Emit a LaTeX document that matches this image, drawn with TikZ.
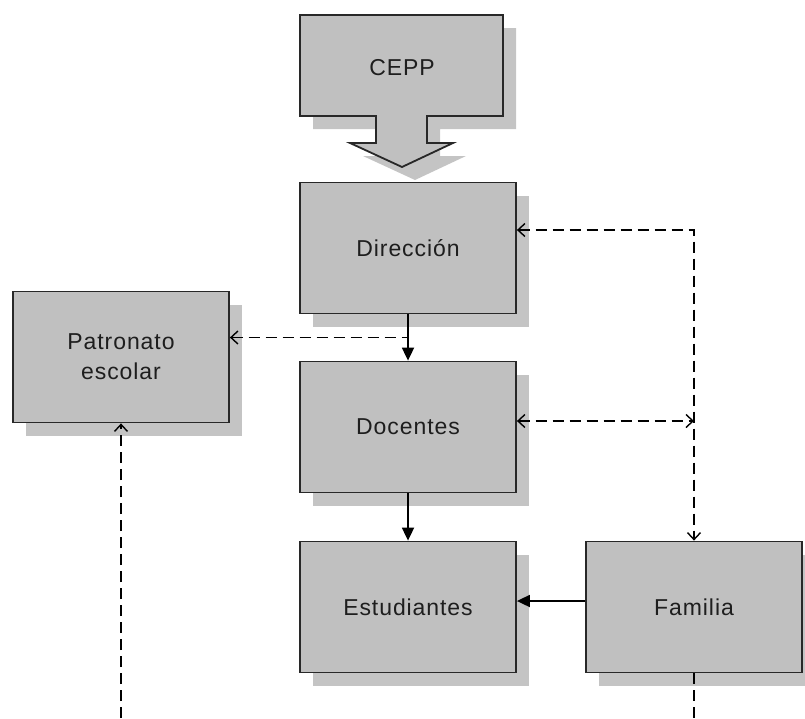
\documentclass[tikz,border=0pt]{standalone}
\usepackage{fontspec}
\setmainfont{Liberation Sans}[LetterSpace=4]
\usetikzlibrary{arrows.meta,shadows,calc}
\definecolor{boxgray}{RGB}{192,192,192}
\definecolor{shadegray}{RGB}{196,196,196}
\definecolor{edgegray}{RGB}{40,40,40}
\definecolor{textgray}{RGB}{30,30,30}
\tikzset{>=Triangle}

\begin{document}
\begin{tikzpicture}[x=1pt,y=-1pt,
  shade/.style={drop shadow={shadow xshift=13pt,shadow yshift=-13pt,fill=shadegray,opacity=1}},
  block/.style={shade,draw=edgegray,line width=1.8pt,fill=boxgray,
    minimum width=216pt,minimum height=131pt,align=center,
    text=textgray,font=\fontsize{23}{30}\selectfont},
  solidline/.style={line width=1.8pt,-{Triangle[length=13pt,width=12pt]}},
  dashline/.style={line width=1.8pt,dash pattern=on 11pt off 6pt},
  dashtip/.tip={Straight Barb[length=7pt,width=13pt,line width=1.4pt]}]
\useasboundingbox (0,0) rectangle (805,718);

% CEPP block arrow
\draw[shade,draw=edgegray,line width=1.8pt,fill=boxgray]
  (300,15) -- (503,15) -- (503,116) -- (427,116) -- (427,143) --
  (453,143) -- (402,167) -- (350,143) -- (376,143) -- (376,116) --
  (300,116) -- cycle;
\node[text=textgray,font=\fontsize{23}{30}\selectfont] (CEPP) at (402,68) {CEPP};

\node[block] (Dir) at (408,248) {Dirección};
\node[block] (Doc) at (408,427) {Docentes};
\node[block] (Est) at (408,607) {Estudiantes};
\node[block] (Fam) at (694,607) {Familia};
\node[block] (Pat) at (121,357) {Patronato\\escolar};

\coordinate (mid) at ($(Dir.south)!.5!(Doc.north)$);
\coordinate (famend) at (694,718);
\coordinate (patend) at (121,718);

\draw[solidline] (Dir) -- (Doc);
\draw[solidline] (Doc) -- (Est);
\draw[solidline] ([yshift=6pt]Fam.west) -- ([yshift=6pt]Est.east);

\draw[dashline,{dashtip}-] (Pat.east |- mid) -- (mid);
\draw[dashline,{dashtip}-{dashtip}]
  ([yshift=18pt]Dir.east) -- ([yshift=18pt]Dir.east -| Fam.north) -- (Fam.north);
\draw[dashline,{dashtip}-{dashtip}]
  ([yshift=6pt]Doc.east) -- ([yshift=6pt]Doc.east -| Fam.north);
\draw[dashline] (Fam.south) -- (famend);
\draw[dashline,-{dashtip}] (patend) -- (Pat.south);
\end{tikzpicture}
\end{document}
